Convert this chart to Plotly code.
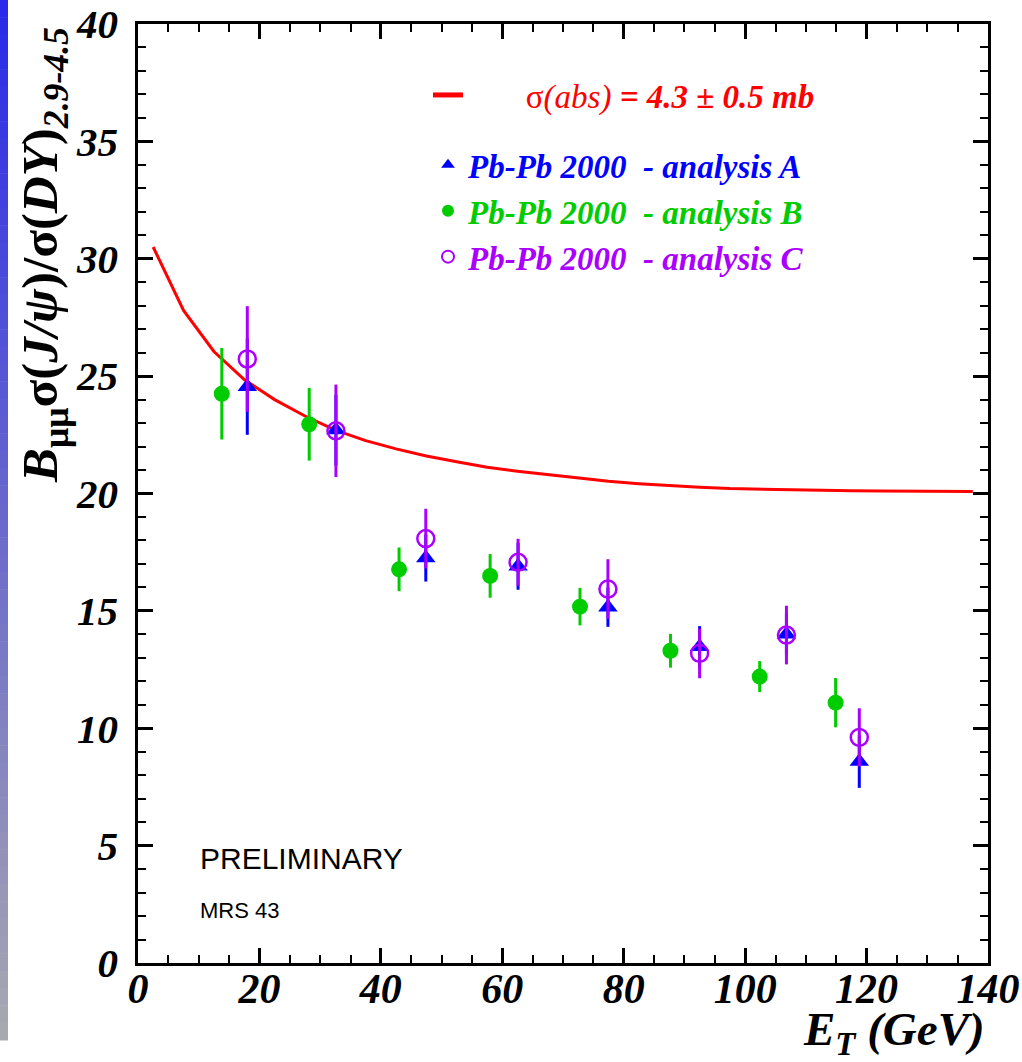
import plotly.graph_objects as go

# ---------------- data ----------------
et_curve = [2.5, 7.5, 12.5, 17.5, 22.5, 27.5, 32.5, 37.5, 42.5, 47.5, 52.5, 57.5,
            62.5, 67.5, 72.5, 77.5, 82.5, 87.5, 92.5, 97.5, 102.5, 107.5, 112.5,
            117.5, 122.5, 127.5, 132.5, 137.5]
ratio_curve = [30.5, 27.8, 26.05, 24.85, 24.0, 23.3, 22.7, 22.25, 21.9, 21.6, 21.35,
               21.12, 20.95, 20.8, 20.65, 20.52, 20.42, 20.33, 20.27, 20.21, 20.18,
               20.15, 20.13, 20.12, 20.11, 20.1, 20.09, 20.08]

et_a = [18.0, 32.6, 47.4, 62.6, 77.4, 92.5, 106.8, 118.8]
ratio_a = [24.55, 22.7, 17.25, 16.9, 15.15, 13.47, 14.0, 8.58]
err_a = [2.05, 1.5, 1.0, 1.0, 0.83, 0.88, 0.9, 1.12]

et_b = [13.8, 28.2, 43.0, 58.0, 72.8, 87.7, 102.4, 114.9]
ratio_b = [24.25, 22.95, 16.77, 16.49, 15.18, 13.3, 12.2, 11.09]
err_b = [1.95, 1.55, 0.93, 0.93, 0.8, 0.72, 0.66, 1.05]

et_c = [18.0, 32.6, 47.4, 62.6, 77.4, 92.5, 106.8, 118.8]
ratio_c = [25.73, 22.67, 18.08, 17.07, 15.93, 13.19, 13.97, 9.61]
err_c = [2.25, 1.97, 1.27, 1.0, 1.27, 1.06, 1.25, 1.24]

x_ticks = [0, 20, 40, 60, 80, 100, 120, 140]
y_ticks = [0, 5, 10, 15, 20, 25, 30, 35, 40]

RED = "#ff0000"
BLUE = "#0000ff"
GREEN = "#00cc00"
PURPLE = "#aa00ff"
SERIF = "Liberation Serif, Times New Roman, Times, serif"
SANS = "Liberation Sans, Arial, Helvetica, sans-serif"
NB = "\u00a0"

# plot-area geometry in page pixels
L, R, T, B = 138, 988, 24, 963
PW, PH = R - L, B - T


def px_x(p):
    return (p - L) / PW


def px_y(p):
    return (B - p) / PH


fig = go.Figure()

fig.add_trace(go.Scatter(
    x=et_curve, y=ratio_curve, mode="lines",
    line=dict(color=RED, width=3),
    name=f"<span style='color:{RED}'>{NB * 7}σ<i>(abs)</i> <b><i>= 4.3 ± 0.5 mb</i></b></span>",
    legendgroup="g1", legendrank=0,
))
fig.add_trace(go.Scatter(
    x=et_b, y=ratio_b, mode="markers",
    marker=dict(symbol="circle", size=16, color=GREEN),
    error_y=dict(type="data", array=err_b, thickness=3, width=0, color=GREEN),
    name=f"<span style='color:{GREEN}'><b><i>Pb-Pb 2000{NB}{NB}- analysis B</i></b></span>",
    legendgroup="g2", legendrank=2,
))
fig.add_trace(go.Scatter(
    x=et_a, y=ratio_a, mode="markers",
    marker=dict(symbol="triangle-up", size=17, color=BLUE),
    error_y=dict(type="data", array=err_a, thickness=3, width=0, color=BLUE),
    name=f"<span style='color:{BLUE}'><b><i>Pb-Pb 2000{NB}{NB}- analysis A</i></b></span>",
    legendgroup="g2", legendrank=1,
))
fig.add_trace(go.Scatter(
    x=et_c, y=ratio_c, mode="markers",
    marker=dict(symbol="circle-open", size=17, color=PURPLE, line=dict(width=2.5, color=PURPLE)),
    error_y=dict(type="data", array=err_c, thickness=3, width=0, color=PURPLE),
    name=f"<span style='color:{PURPLE}'><b><i>Pb-Pb 2000{NB}{NB}- analysis C</i></b></span>",
    legendgroup="g2", legendrank=3,
))

axis_common = dict(
    showline=True, linecolor="black", linewidth=2.5, mirror="ticks",
    ticks="inside", ticklen=15, tickwidth=2.5, tickcolor="black",
    showgrid=False, zeroline=False,
)

fig.update_xaxes(
    range=[0, 140], tickvals=x_ticks, ticktext=[f"<b><i>{v}</i></b>" for v in x_ticks],
    minor=dict(dtick=5, ticks="inside", ticklen=8, tickwidth=2, tickcolor="black"),
    tickfont=dict(family=SERIF, size=42, color="black"),
    ticklabelstandoff=-13,
    **axis_common,
)
fig.update_yaxes(
    range=[0, 40], tickvals=y_ticks, ticktext=[f"<b><i>{v}</i></b>" for v in y_ticks],
    minor=dict(dtick=1, ticks="inside", ticklen=8, tickwidth=2, tickcolor="black"),
    tickfont=dict(family=SERIF, size=41, color="black"),
    ticklabelstandoff=9,
    **axis_common,
)

# left gradient strip (blue to grey)
n = 60
top_px, bot_px = 0.0, 1040.0
for i in range(n):
    t = i / (n - 1)
    r = int(round(42 + (168 - 42) * t))
    g = int(round(42 + (168 - 42) * t))
    b = int(round(232 + (176 - 232) * t))
    y0px = top_px + (bot_px - top_px) * i / n
    y1px = top_px + (bot_px - top_px) * (i + 1) / n + 0.5
    fig.add_shape(
        type="rect", xref="paper", yref="paper",
        x0=px_x(0), x1=px_x(8),
        y0=px_y(y1px), y1=px_y(y0px),
        fillcolor=f"rgb({r},{g},{b})", line=dict(width=0), layer="below",
    )

annotations = [
    dict(text="<b><i>B</i><sub>μμ</sub>σ(<i>J/ψ</i>)/σ(<i>DY</i>)<sub><i>2.9-4.5</i></sub></b>",
         xref="paper", yref="paper", x=px_x(44), y=px_y(255),
         xanchor="center", yanchor="middle", textangle=-90, showarrow=False,
         font=dict(family=SERIF, size=51, color="black")),
    dict(text="<b><i>E<sub>T</sub> (GeV)</i></b>",
         xref="paper", yref="paper", x=px_x(987), y=px_y(1001),
         xanchor="right", yanchor="top", showarrow=False,
         font=dict(family=SERIF, size=47, color="black")),
    dict(text="PRELIMINARY", xref="paper", yref="paper",
         x=px_x(198), y=px_y(858),
         xanchor="left", yanchor="middle", showarrow=False,
         font=dict(family=SANS, size=30, color="black")),
    dict(text="MRS 43", xref="paper", yref="paper",
         x=px_x(198), y=px_y(910),
         xanchor="left", yanchor="middle", showarrow=False,
         font=dict(family=SANS, size=22, color="black")),
]

fig.update_layout(
    width=1022, height=1062,
    margin=dict(l=L, r=1022 - R, t=T, b=1062 - B, pad=0, autoexpand=False),
    plot_bgcolor="white", paper_bgcolor="white",
    annotations=annotations,
    showlegend=True,
    legend=dict(
        x=px_x(428), y=px_y(67), xanchor="left", yanchor="top",
        bgcolor="rgba(0,0,0,0)", borderwidth=0,
        font=dict(family=SERIF, size=33, color="black"),
        traceorder="grouped", tracegroupgap=24, itemsizing="constant",
    ),
)

fig.write_html("out.html", config={"displayModeBar": False},
               post_script="document.body.style.margin='0';")
